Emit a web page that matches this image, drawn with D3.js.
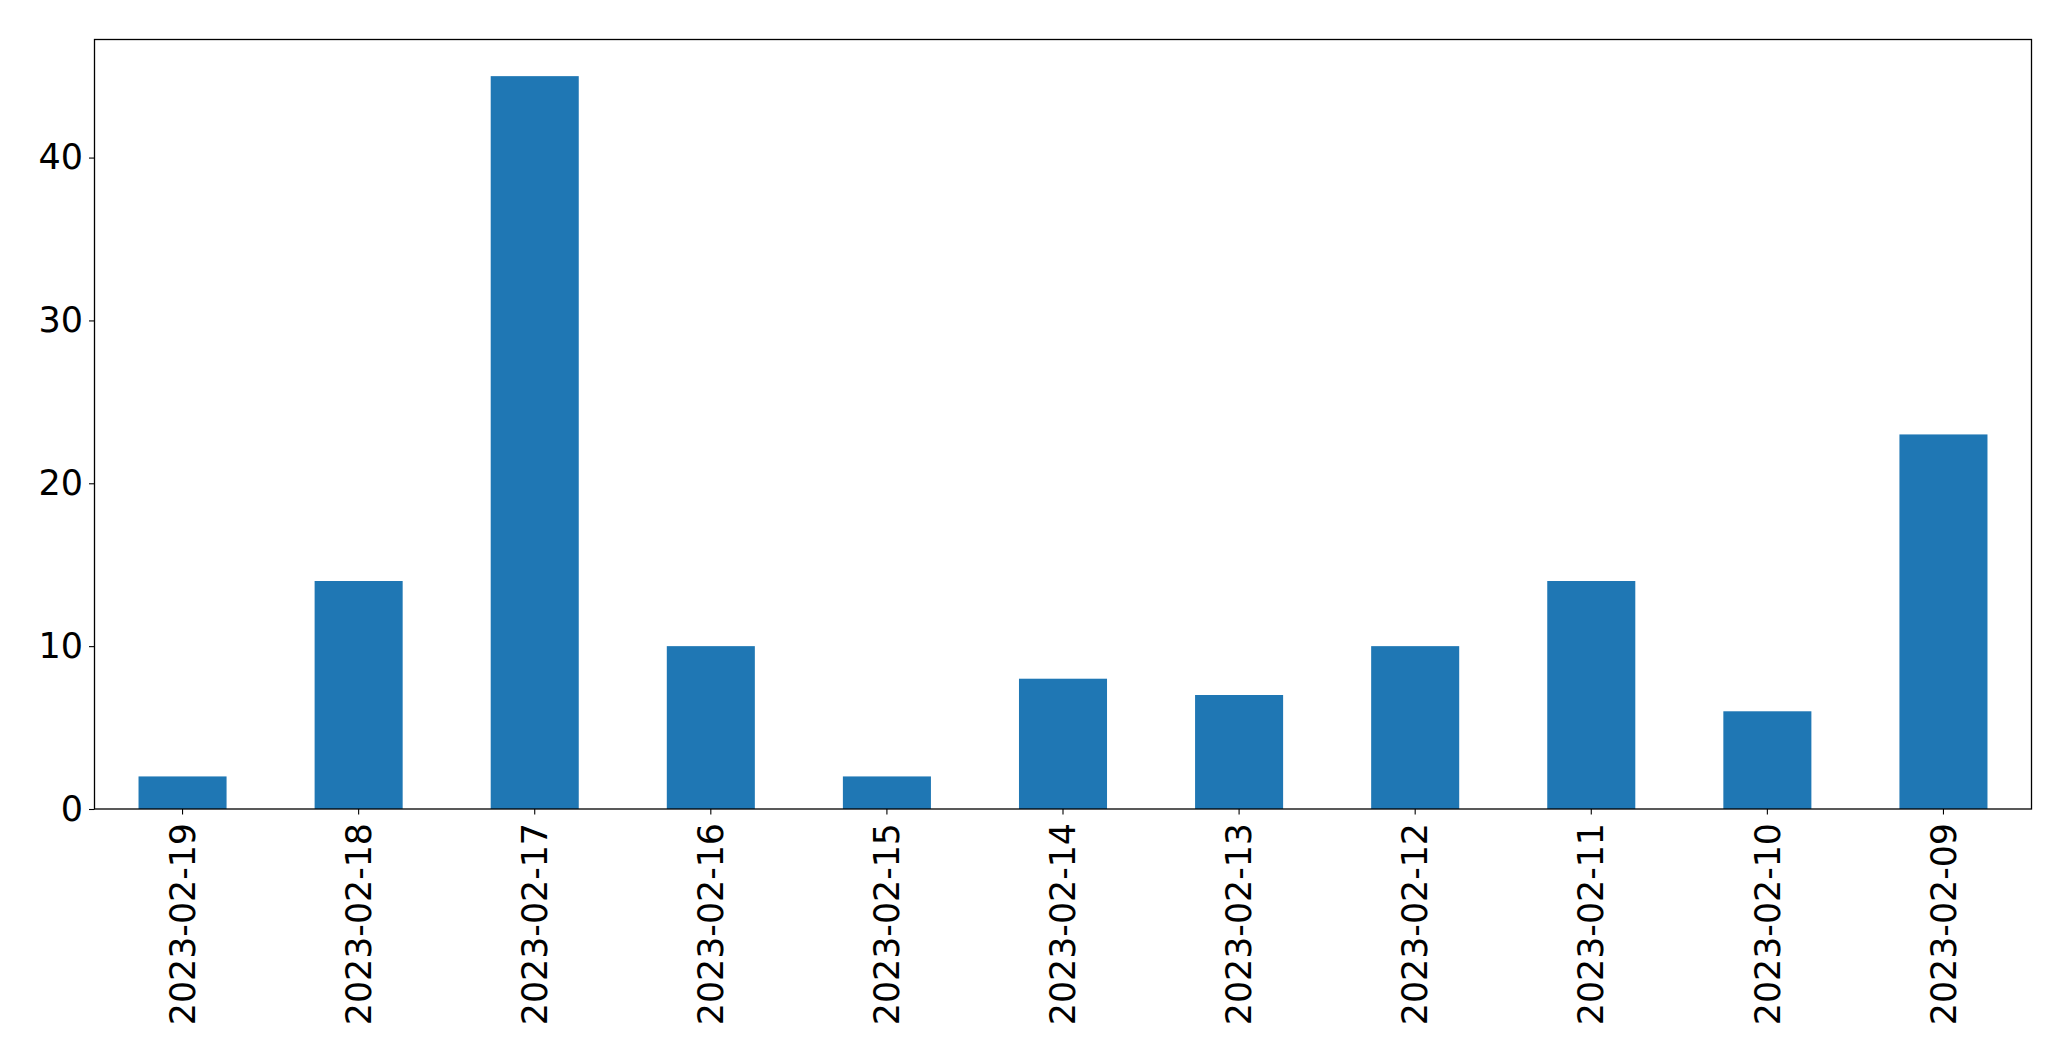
<!DOCTYPE html>
<html>
<head>
<meta charset="utf-8">
<script src="https://cdn.jsdelivr.net/npm/d3@7"></script>
<style>
  body { margin: 0; background: #fff; }
  svg text { font-family: "DejaVu Sans", sans-serif; fill: #000; }
</style>
</head>
<body>
<div id="chart"></div>
<script>
// data
var dates = ["2023-02-19", "2023-02-18", "2023-02-17", "2023-02-16", "2023-02-15", "2023-02-14",
             "2023-02-13", "2023-02-12", "2023-02-11", "2023-02-10", "2023-02-09"];
var counts = [2, 14, 45, 10, 2, 8, 7, 10, 14, 6, 23];
var yTicks = [0, 10, 20, 30, 40];

var W = 2071, H = 1061;
var margin = {top: 39.5, right: 39.5, bottom: 252, left: 94.5},
    width = W - margin.left - margin.right,
    height = H - margin.top - margin.bottom;

var svg = d3.select("#chart").append("svg")
    .attr("width", W)
    .attr("height", H)
    .append("g")
    .attr("transform", "translate(" + margin.left + "," + margin.top + ")");

// band scale like matplotlib: xlim -0.5..n-0.5, bar width 0.5
var scalex = d3.scaleBand().domain(dates).range([0, width]).paddingInner(0.5).paddingOuter(0.25);
var scaley = d3.scaleLinear().domain([0, d3.max(counts) * 1.05]).range([height, 0]);

svg.selectAll("rect.bar")
    .data(counts)
    .enter().append("rect")
    .attr("class", "bar")
    .attr("x", function (d, i) { return scalex(dates[i]); })
    .attr("width", scalex.bandwidth())
    .attr("y", function (d) { return scaley(d); })
    .attr("height", function (d) { return height - scaley(d); })
    .attr("fill", "#1f77b4");

// y axis
var yax = svg.append("g")
    .call(d3.axisLeft(scaley).tickValues(yTicks).tickSize(5.5).tickPadding(6).tickFormat(d3.format("d")));
yax.select(".domain").remove();
yax.selectAll("line").attr("stroke", "#000").attr("stroke-width", 1.1);
yax.selectAll("text").style("font-size", "35px");

// x axis
var xax = svg.append("g")
    .attr("transform", "translate(0," + height + ")")
    .call(d3.axisBottom(scalex).tickSize(5.5).tickPadding(0));
xax.select(".domain").remove();
xax.selectAll("line").attr("stroke", "#000").attr("stroke-width", 1.1);
xax.selectAll("text")
    .style("font-size", "34.8px")
    .style("text-anchor", "end")
    .attr("dy", "0.35em")
    .attr("y", 0)
    .attr("x", -14)
    .attr("transform", "rotate(-90)");

// frame
svg.append("rect")
    .attr("width", width)
    .attr("height", height)
    .attr("fill", "none")
    .attr("stroke", "#000")
    .attr("stroke-width", 1.3);
</script>
</body>
</html>
